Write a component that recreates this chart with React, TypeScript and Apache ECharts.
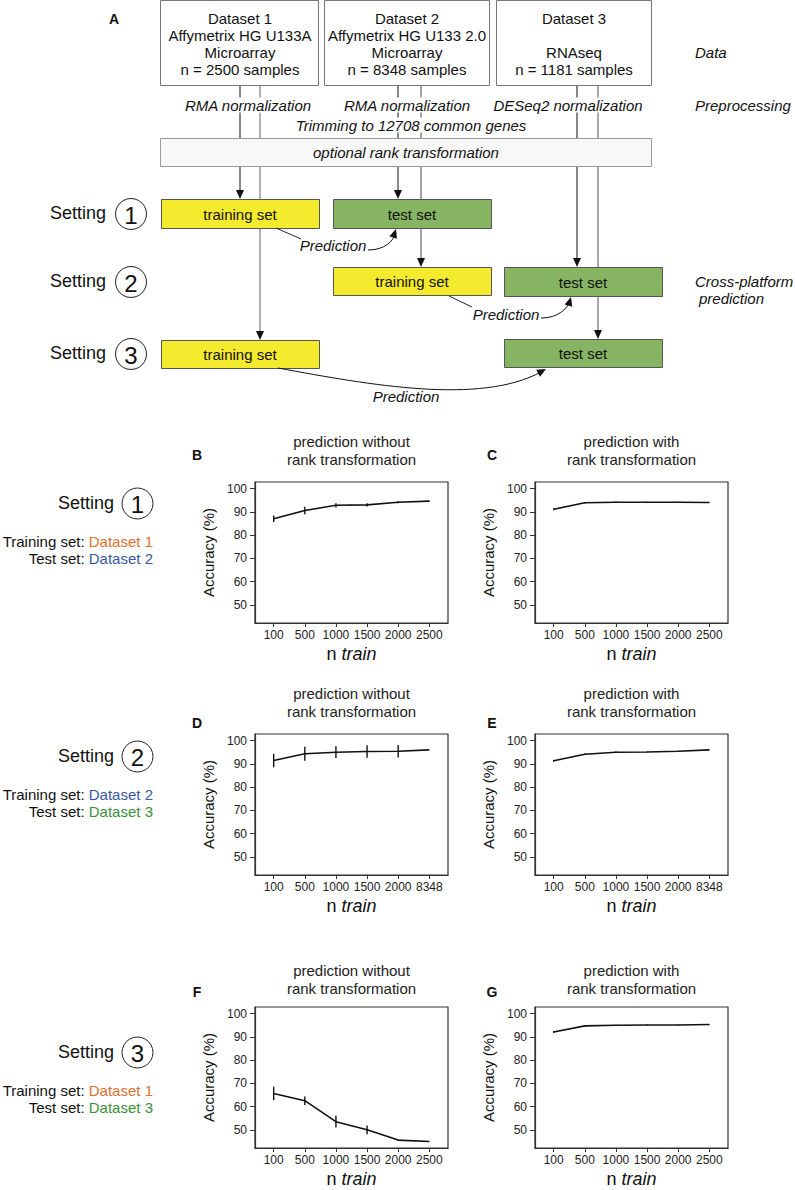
import React, { useEffect, useRef } from 'react';
import * as echarts from 'echarts';

const FONT = '"Liberation Sans", Arial, Helvetica, sans-serif';

// ---------- data ----------
const xLabels13 = ['100', '500', '1000', '1500', '2000', '2500'];
const xLabels2 = ['100', '500', '1000', '1500', '2000', '8348'];
const yTicks = [50, 60, 70, 80, 90, 100];

const accB = [87.0, 90.6, 92.8, 93.0, 94.1, 94.6];
const errB = [1.4, 1.6, 0.9, 0.7, 0.4, 0.2];
const accC = [91.1, 93.9, 94.1, 94.1, 94.1, 94.0];
const errC = [0.4, 0.3, 0.3, 0.2, 0.2, 0.1];
const accD = [91.4, 94.3, 95.0, 95.3, 95.4, 96.0];
const errD = [2.9, 3.0, 2.5, 2.7, 2.7, 0.0];
const accE = [91.3, 94.1, 95.0, 95.1, 95.4, 96.0];
const errE = [0.4, 0.3, 0.3, 0.2, 0.2, 0.1];
const accF = [65.7, 62.6, 53.6, 50.1, 45.7, 45.1];
const errF = [2.9, 1.8, 2.5, 1.9, 0.3, 0.1];
const accG = [92.1, 94.7, 95.0, 95.1, 95.1, 95.3];
const errG = [0.4, 0.3, 0.2, 0.2, 0.2, 0.1];

const titleWithout = ['prediction without', 'rank transformation'];
const titleWith = ['prediction with', 'rank transformation'];

// ---------- layout ----------
const panels = [
  { letter: 'B', left: 255, top: 482, labels: xLabels13, acc: accB, err: errB, title: titleWithout, tY: 441, lY: 455, lX: 197 },
  { letter: 'C', left: 535, top: 482, labels: xLabels13, acc: accC, err: errC, title: titleWith, tY: 441, lY: 455, lX: 492 },
  { letter: 'D', left: 255, top: 734, labels: xLabels2, acc: accD, err: errD, title: titleWithout, tY: 693, lY: 723, lX: 197 },
  { letter: 'E', left: 535, top: 734, labels: xLabels2, acc: accE, err: errE, title: titleWith, tY: 693, lY: 723, lX: 492 },
  { letter: 'F', left: 255, top: 1007, labels: xLabels13, acc: accF, err: errF, title: titleWithout, tY: 970, lY: 992, lX: 197 },
  { letter: 'G', left: 535, top: 1007, labels: xLabels13, acc: accG, err: errG, title: titleWith, tY: 970, lY: 992, lX: 492 },
];
const GW = 193;
const GH = 141;

const ORANGE = '#E0702F';
const BLUE = '#3A57A5';
const GREEN = '#3C8F3C';
const YELLOW = '#F4EA2E';
const GBOX = '#86B462';

function buildGraphics() {
  const els: any[] = [];
  const line = (x1: number, y1: number, x2: number, y2: number, stroke = '#111', w = 1) =>
    els.push({ type: 'line', silent: true, shape: { x1, y1, x2, y2 }, style: { stroke, lineWidth: w } });
  const head = (tx: number, ty: number, dx: number, dy: number, fill = '#111') => {
    const L = Math.hypot(dx, dy);
    const ux = dx / L, uy = dy / L;
    const len = 9, hw = 4;
    const bx = tx - ux * len, by = ty - uy * len;
    els.push({
      type: 'polygon', silent: true,
      shape: { points: [[tx, ty], [bx - uy * hw, by + ux * hw], [bx + uy * hw, by - ux * hw]] },
      style: { fill },
    });
  };
  const rect = (x: number, y: number, w: number, h: number, fill: string, stroke = '#555') =>
    els.push({ type: 'rect', silent: true, shape: { x, y, width: w, height: h }, style: { fill, stroke, lineWidth: 1 } });
  const text = (t: string, x: number, y: number, o: any = {}) =>
    els.push({
      type: 'text', silent: true, x, y,
      style: {
        text: t,
        fill: o.fill || '#111',
        fontSize: o.size || 15,
        fontFamily: FONT,
        fontStyle: o.italic ? 'italic' : 'normal',
        fontWeight: o.bold ? 'bold' : 'normal',
        align: o.align || 'center',
        textAlign: o.align || 'center',
        verticalAlign: 'middle',
        textVerticalAlign: 'middle',
        backgroundColor: o.bg,
        padding: o.bg ? [0, 1] : undefined,
        rich: o.rich,
      },
    });
  const circleNum = (cx: number, cy: number, n: string) => {
    els.push({ type: 'circle', silent: true, shape: { cx, cy, r: 15.5 }, style: { fill: '#fff', stroke: '#222', lineWidth: 1 } });
    text(n, cx, cy + 1, { size: 24 });
  };

  // vertical connector lines
  const arrowDown = (x: number, y1: number, y2: number, stroke: string) => {
    line(x, y1, x, y2 - 6, stroke, 1);
  };
  arrowDown(240, 85, 199, '#111');
  arrowDown(260, 85, 340, '#666');
  arrowDown(398, 85, 199, '#111');
  arrowDown(421, 85, 267, '#444');
  arrowDown(577, 85, 267, '#111');
  arrowDown(598, 85, 339, '#555');

  // data boxes
  rect(160.5, 0.5, 158, 85, '#fff', '#777');
  rect(324.5, 0.5, 165, 85, '#fff', '#777');
  rect(496.5, 0.5, 155, 85, '#fff', '#777');
  // rank transformation box
  rect(160.5, 138.5, 491, 28, '#f8f8f8', '#999');

  // setting boxes
  rect(161.5, 199.5, 158, 29, YELLOW);
  rect(333.5, 199.5, 158, 29, GBOX);
  rect(333.5, 267.5, 158, 28, YELLOW);
  rect(504.5, 267.5, 158, 29, GBOX);
  rect(161.5, 340.5, 158, 28, YELLOW);
  rect(504.5, 339.5, 158, 28, GBOX);

  // arrow heads
  head(240, 199, 0, 1);
  head(260, 340, 0, 1);
  head(398, 199, 0, 1);
  head(421, 267, 0, 1);
  head(577, 267, 0, 1);
  head(598, 339, 0, 1);

  // texts in data boxes
  ['Dataset 1', 'Affymetrix HG U133A', 'Microarray', 'n = 2500 samples'].forEach((t, i) => text(t, 240, 18 + i * 17));
  ['Dataset 2', 'Affymetrix HG U133 2.0', 'Microarray', 'n = 8348 samples'].forEach((t, i) => text(t, 407, 18 + i * 17));
  text('Dataset 3', 574, 18);
  text('RNAseq', 574, 52);
  text('n = 1181 samples', 574, 69);

  text('Data', 695, 52, { italic: true, align: 'left' });
  text('Preprocessing', 695, 105, { italic: true, align: 'left' });
  text('RMA normalization', 248, 105, { italic: true, bg: '#fff' });
  text('RMA normalization', 407, 105, { italic: true, bg: '#fff' });
  text('DESeq2 normalization', 568, 105, { italic: true, bg: '#fff' });
  text('Trimming to 12708 common genes', 411, 125, { italic: true, bg: '#fff' });
  text('optional rank transformation', 406, 152, { italic: true });

  text('training set', 240, 214);
  text('test set', 412, 214);
  text('training set', 412, 281);
  text('test set', 583, 282);
  text('training set', 240, 354);
  text('test set', 583, 353);

  text('Cross-platform', 695, 281, { italic: true, align: 'left' });
  text('prediction', 699, 298, { italic: true, align: 'left' });

  text('A', 114, 19, { bold: true, size: 14 });

  // setting labels (diagram)
  [[213, '1'], [281, '2'], [353, '3']].forEach(([y, n]: any) => {
    text('Setting', 50, y, { size: 18, align: 'left' });
    circleNum(131, y + 1, n);
  });

  // prediction arrows
  line(276, 228, 301, 239, '#222', 1);
  text('Prediction', 333, 245, { italic: true });
  els.push({ type: 'bezierCurve', silent: true, shape: { x1: 368, y1: 250, cpx1: 385, cpy1: 250, cpx2: 393, cpy2: 241, x2: 396, y2: 233 }, style: { stroke: '#111', lineWidth: 1, fill: null } });
  head(396, 229, 3, -9);

  line(449, 296, 472, 307, '#222', 1);
  text('Prediction', 506, 314, { italic: true });
  els.push({ type: 'bezierCurve', silent: true, shape: { x1: 541, y1: 318, cpx1: 558, cpy1: 318, cpx2: 567, cpy2: 309, x2: 570, y2: 301 }, style: { stroke: '#111', lineWidth: 1, fill: null } });
  head(571, 297, 3, -10);

  els.push({ type: 'bezierCurve', silent: true, shape: { x1: 278, y1: 368, cpx1: 370, cpy1: 385, cpx2: 480, cpy2: 405, x2: 541, y2: 372 }, style: { stroke: '#111', lineWidth: 1, fill: null } });
  head(546, 369, 60, -33);
  text('Prediction', 406, 396, { italic: true });

  // lower-left setting descriptions
  const descs = [
    { y: 503, n: '1', train: ['Dataset 1', ORANGE], test: ['Dataset 2', BLUE] },
    { y: 756, n: '2', train: ['Dataset 2', BLUE], test: ['Dataset 3', GREEN] },
    { y: 1052, n: '3', train: ['Dataset 1', ORANGE], test: ['Dataset 3', GREEN] },
  ];
  descs.forEach((d) => {
    text('Setting', 58, d.y, { size: 18, align: 'left' });
    circleNum(137.5, d.y + 0.5, d.n);
    text(`{a|Training set: }{b|${d.train[0]}}`, 153, d.y + 38, {
      align: 'right',
      rich: { a: { fontSize: 15, fontFamily: FONT, fill: '#111', color: '#111' }, b: { fontSize: 15, fontFamily: FONT, fill: d.train[1], color: d.train[1] } },
    });
    text(`{a|Test set: }{b|${d.test[0]}}`, 153, d.y + 55, {
      align: 'right',
      rich: { a: { fontSize: 15, fontFamily: FONT, fill: '#111', color: '#111' }, b: { fontSize: 15, fontFamily: FONT, fill: d.test[1], color: d.test[1] } },
    });
  });

  // chart titles and panel letters
  panels.forEach((p) => {
    const cx = p.left + GW / 2;
    text(p.title[0], cx, p.tY, { size: 15, fill: '#222' });
    text(p.title[1], cx, p.tY + 18, { size: 15, fill: '#222' });
    text(p.letter, p.lX, p.lY, { bold: true, size: 14 });
  });

  return els;
}

function buildOption() {
  const idx = [0, 1, 2, 3, 4, 5];
  const grid = panels.map((p) => ({
    left: p.left, top: p.top, width: GW, height: GH,
    show: true, borderColor: '#333', borderWidth: 1.2, backgroundColor: 'transparent',
  }));
  const xAxis = panels.map((p, i) => ({
    gridIndex: i, type: 'value', min: -0.6, max: 5.6,
    splitLine: { show: false },
    axisLine: { show: true, onZero: false, lineStyle: { color: '#333', width: 1.2 } },
    axisTick: { show: true, length: 4, customValues: idx, lineStyle: { color: '#333' } },
    axisLabel: {
      customValues: idx, margin: 6, fontSize: 12, color: '#222', fontFamily: FONT,
      formatter: (v: number) => p.labels[Math.round(v)],
    },
    name: '{a|n }{b|train}', nameLocation: 'middle', nameGap: 22,
    nameTextStyle: {
      rich: {
        a: { fontSize: 18, fontFamily: FONT, color: '#111' },
        b: { fontSize: 18, fontFamily: FONT, fontStyle: 'italic', color: '#111' },
      },
    },
  }));
  const yAxis = panels.map((p, i) => ({
    gridIndex: i, type: 'value', min: 42.3, max: 102.8,
    splitLine: { show: false },
    axisLine: { show: true, onZero: false, lineStyle: { color: '#333', width: 1.2 } },
    axisTick: { show: true, length: 5, customValues: yTicks, lineStyle: { color: '#333' } },
    axisLabel: { customValues: yTicks, margin: 8, fontSize: 12, color: '#222', fontFamily: FONT },
    name: 'Accuracy (%)', nameLocation: 'middle', nameGap: 39,
    nameTextStyle: { fontSize: 15, fontFamily: FONT, color: '#111' },
  }));
  const series: any[] = [];
  panels.forEach((p, i) => {
    series.push({
      type: 'line', xAxisIndex: i, yAxisIndex: i, silent: true,
      data: p.acc.map((v, j) => [j, v]),
      symbol: 'none', lineStyle: { color: '#111', width: 1.6 },
    });
    series.push({
      type: 'custom', xAxisIndex: i, yAxisIndex: i, silent: true,
      data: p.acc.map((v, j) => [j, v - p.err[j], v + p.err[j]]),
      encode: { x: 0, y: [1, 2] },
      renderItem: (params: any, api: any) => {
        const x = api.value(0);
        const a = api.coord([x, api.value(1)]);
        const b = api.coord([x, api.value(2)]);
        return {
          type: 'line',
          shape: { x1: a[0], y1: a[1], x2: b[0], y2: b[1] },
          style: { stroke: '#111', lineWidth: 1.4 },
        };
      },
    });
  });
  return {
    animation: false,
    backgroundColor: '#fff',
    grid, xAxis, yAxis, series,
    graphic: { elements: buildGraphics() },
  };
}

export default function App() {
  const ref = useRef<HTMLDivElement>(null);
  useEffect(() => {
    if (!ref.current) return;
    const chart = echarts.init(ref.current, null, { renderer: 'svg', width: 795, height: 1190 });
    chart.setOption(buildOption() as any);
    return () => chart.dispose();
  }, []);
  return <div ref={ref} style={{ position: 'absolute', left: 0, top: 0, width: 795, height: 1190 }} />;
}
